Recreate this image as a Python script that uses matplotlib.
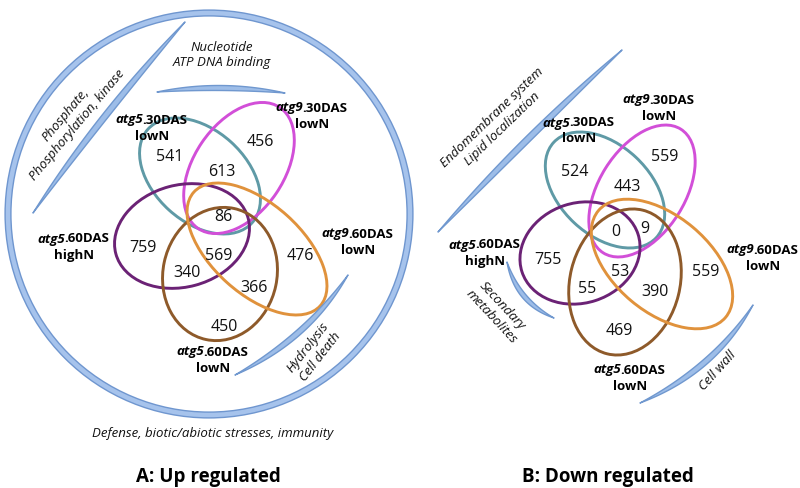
import numpy as np
import matplotlib
matplotlib.use("Agg")
import matplotlib.pyplot as plt
from matplotlib.patches import Ellipse, Circle, Polygon

plt.rcParams['font.family'] = ['Open Sans', 'DejaVu Sans']

# --- data ---
set_genes = ["atg5", "atg9", "atg5", "atg9", "atg5"]
set_rest = [".30DAS", ".30DAS", ".60DAS", ".60DAS", ".60DAS"]
set_cond = ["lowN", "lowN", "highN", "lowN", "lowN"]
set_colors = ["#5f9aa6", "#d24fd8", "#6b2275", "#8e5a2a", "#e0923c"]

up_counts = [541, 456, 613, 86, 759, 569, 476, 340, 366, 450]
down_counts = [524, 559, 443, 0, 9, 755, 53, 559, 55, 390, 469]

up_terms = ["Nucleotide\nATP DNA binding", "Phosphate,\nPhosphorylation, kinase",
            "Hydrolysis\nCell death", "Defense, biotic/abiotic stresses, immunity"]
down_terms = ["Endomembrane system\nLipid localization", "Secondary\nmetabolites", "Cell wall"]
panel_titles = ["A: Up regulated", "B: Down regulated"]

# --- layout (pixel coordinates) ---
ell_up = [((200, 176), 140, 92, 42), ((239, 168), 146, 90, -56), ((182, 236), 137, 102, -15),
          ((220, 274), 134, 114, -78), ((257, 249), 170, 90, 42)]
ell_down = [((605, 190), 140, 90, 43), ((642, 191), 146, 86, -58), ((580, 253), 122, 100, -18),
            ((625, 282), 148, 110, -76), ((662, 264), 166, 96, 40)]
up_pos = [(170, 157), (260, 142), (222, 172), (223, 217), (143, 248), (219, 256),
          (300, 256), (187, 273), (254, 288), (224, 327)]
down_pos = [(575, 172), (665, 157), (627, 187), (616, 232), (645, 229), (548, 260),
            (620, 272), (706, 272), (587, 289), (655, 292), (619, 331)]
lab_up = [(152, 120), (312, 108), (74, 239), (358, 234), (213, 352)]
lab_down = [(579, 123), (659, 100), (485, 245), (763, 250), (630, 370)]

fig = plt.figure(figsize=(8, 4.88), dpi=100)
ax = fig.add_axes([0, 0, 1, 1])
ax.set_xlim(0, 800)
ax.set_ylim(488, 0)
ax.axis("off")
renderer = fig.canvas.get_renderer()


def swoosh(p0, mid, p1, w):
    p0, mid, p1 = np.array(p0, float), np.array(mid, float), np.array(p1, float)
    ctrl = 2 * mid - 0.5 * (p0 + p1)
    d = p1 - p0
    n = np.array([-d[1], d[0]]) / np.hypot(*d)
    t = np.linspace(0, 1, 80)[:, None]
    def bez(c):
        return (1 - t) ** 2 * p0 + 2 * t * (1 - t) * c + t ** 2 * p1
    pts = np.vstack([bez(ctrl + n * w), bez(ctrl - n * w)[::-1]])
    ax.add_patch(Polygon(pts, closed=True, facecolor="#9dbde8", edgecolor="#7098cf",
                         lw=1.0, joinstyle="round"))


def set_label(x, y, gene, rest, cond):
    t1 = ax.text(0, 0, gene, fontsize=9.5, fontweight="bold", style="italic", va="center")
    t2 = ax.text(0, 0, rest, fontsize=9.5, fontweight="bold", va="center")
    w1 = t1.get_window_extent(renderer).width
    w2 = t2.get_window_extent(renderer).width
    x0 = x - (w1 + w2) / 2
    t1.set_position((x0, y))
    t2.set_position((x0 + w1 - 1, y))
    ax.text(x, y + 16, cond, fontsize=9.5, fontweight="bold", ha="center", va="center")


# panel A outer circle
ax.add_patch(Circle((209, 214), 201, fill=False, edgecolor="#6f96cf", lw=5.2))
ax.add_patch(Circle((209, 214), 201, fill=False, edgecolor="#a6c3ec", lw=3.2))

for ells, counts, pos, labs in [(ell_up, up_counts, up_pos, lab_up),
                                (ell_down, down_counts, down_pos, lab_down)]:
    for (c, w, h, a), col in zip(ells, set_colors):
        ax.add_patch(Ellipse(c, w, h, angle=a, fill=False, edgecolor=col, lw=2.1))
    for v, (x, y) in zip(counts, pos):
        ax.text(x, y, str(v), fontsize=11.5, ha="center", va="center", color="#111111")
    for (x, y), g, r, cnd in zip(labs, set_genes, set_rest, set_cond):
        set_label(x, y, g, r, cnd)

# functional category swooshes and terms
swoosh((157, 92), (221, 88), (285, 93), 5)
swoosh((33, 213), (106, 115), (185, 22), 6)
swoosh((235, 375), (299, 332), (348, 275), 5.5)
swoosh((438, 232), (528, 139), (622, 50), 6)
swoosh((507, 262), (524, 296), (554, 318), 4.5)
swoosh((640, 403), (705, 362), (753, 305), 5.5)

tkw = dict(fontsize=9.5, style="italic", ha="center", va="center", linespacing=1.25, color="#111111")
ax.text(222, 55, up_terms[0], **tkw)
ax.text(71, 120, up_terms[1], rotation=50, **tkw)
ax.text(314, 352, up_terms[2], rotation=52, **tkw)
ax.text(213, 433, up_terms[3], **tkw)
ax.text(497, 123, down_terms[0], rotation=44, **tkw)
ax.text(497, 311, down_terms[1], rotation=-47, **tkw)
ax.text(718, 371, down_terms[2], rotation=48, **tkw)

ax.text(208, 477, panel_titles[0], fontsize=13.5, fontweight="bold", ha="center", va="center")
ax.text(608, 477, panel_titles[1], fontsize=13.5, fontweight="bold", ha="center", va="center")

fig.savefig("out.png", dpi=100)
